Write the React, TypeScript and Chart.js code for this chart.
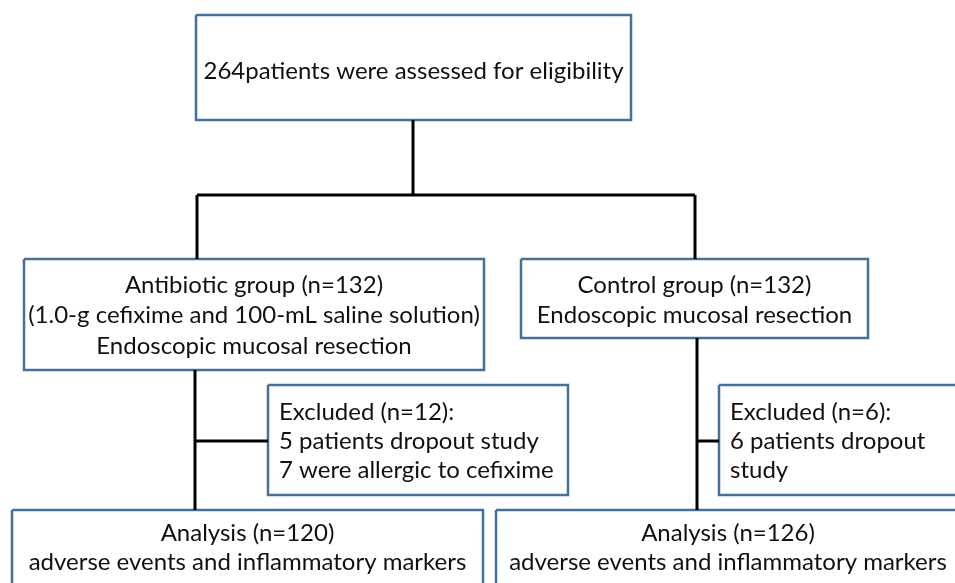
import React, { useEffect, useRef } from "react";
import { Chart, registerables } from "chart.js";

Chart.register(...registerables);

// Flowchart boxes (coordinates in chart units, 0..955 x, 0..583 y downward)
const boxIds = ["top", "antibiotic", "control", "excl1", "excl2", "an1", "an2"];
const boxLeft = [196, 24, 521, 268, 719, 12, 496];
const boxRight = [631, 484, 868, 568, 980, 483, 965];
const boxTop = [15, 259, 259, 385, 385, 510, 510];
const boxBottom = [120, 370, 338, 495, 495, 610, 610];
const boxAlign = ["center", "center", "center", "left", "left", "center", "center"];
const boxFirstLineY = [71, 285, 285, 412, 412, 533, 533];
const boxLineGap = [30, 30.5, 30, 29, 29, 29, 29];
const boxText: string[][] = [
  ["264patients were assessed for eligibility"],
  ["Antibiotic group (n=132)", "(1.0-g cefixime and 100-mL saline solution)", "Endoscopic mucosal resection"],
  ["Control group (n=132)", "Endoscopic mucosal resection"],
  ["Excluded (n=12):", "5 patients dropout study", "7 were allergic to cefixime"],
  ["Excluded (n=6):", "6 patients dropout", "study"],
  ["Analysis (n=120)", "adverse events and inflammatory markers"],
  ["Analysis (n=126)", "adverse events and inflammatory markers"],
];

// Connector polylines
const connectorXs: number[][] = [
  [413, 413],
  [197, 695],
  [197, 197],
  [695, 695],
  [195, 195],
  [195, 268],
  [697, 697],
  [697, 719],
];
const connectorYs: number[][] = [
  [120, 195],
  [195, 195],
  [195, 259],
  [195, 259],
  [370, 510],
  [441, 441],
  [338, 510],
  [441, 441],
];

const W = 955;
const H = 583;
const FONT = "Lato, 'Open Sans', sans-serif";

export default function App() {
  const ref = useRef<HTMLCanvasElement | null>(null);

  useEffect(() => {
    if (!ref.current) return;

    const connectorSets = connectorXs.map((xs, i) => ({
      label: "c" + i,
      data: xs.map((x, j) => ({ x, y: connectorYs[i][j] })),
      showLine: true,
      borderColor: "#000000",
      borderWidth: 3,
      pointRadius: 0,
      fill: false,
      tension: 0,
    }));

    const boxSets = boxIds.map((id, i) => ({
      label: id,
      data: [
        { x: boxLeft[i], y: boxTop[i] },
        { x: boxRight[i], y: boxTop[i] },
        { x: boxRight[i], y: boxBottom[i] },
        { x: boxLeft[i], y: boxBottom[i] },
        { x: boxLeft[i], y: boxTop[i] },
      ],
      showLine: true,
      borderColor: "#41719C",
      borderWidth: 2.5,
      borderJoinStyle: "miter" as const,
      pointRadius: 0,
      fill: false,
      tension: 0,
    }));

    const textPlugin = {
      id: "boxText",
      afterDatasetsDraw(chart: any) {
        const { ctx, scales } = chart;
        const xs = scales.x;
        const ys = scales.y;
        ctx.save();
        ctx.fillStyle = "#111111";
        ctx.font = `24px ${FONT}`;
        ctx.textBaseline = "middle";
        boxText.forEach((lines, i) => {
          lines.forEach((t, j) => {
            const yv = boxFirstLineY[i] + j * boxLineGap[i];
            if (boxAlign[i] === "left") {
              ctx.textAlign = "left";
              ctx.fillText(t, xs.getPixelForValue(boxLeft[i] + 11), ys.getPixelForValue(yv));
            } else {
              ctx.textAlign = "center";
              const cx = (boxLeft[i] + Math.min(boxRight[i], W + 5)) / 2;
              ctx.fillText(t, xs.getPixelForValue(cx), ys.getPixelForValue(yv));
            }
          });
        });
        ctx.restore();
      },
    };

    const chart = new Chart(ref.current, {
      type: "scatter",
      data: { datasets: [...connectorSets, ...boxSets] as any },
      options: {
        responsive: false,
        animation: false,
        layout: { padding: 0 },
        plugins: { legend: { display: false }, tooltip: { enabled: false } },
        scales: {
          x: { type: "linear", min: 0, max: W, display: false },
          y: { type: "linear", min: 0, max: H, reverse: true, display: false },
        },
      },
      plugins: [textPlugin],
    });
    return () => chart.destroy();
  }, []);

  return (
    <div style={{ position: "absolute", left: 0, top: 0, width: W, height: H, background: "#ffffff" }}>
      <canvas ref={ref} width={W} height={H} style={{ width: W, height: H, display: "block" }} />
    </div>
  );
}
